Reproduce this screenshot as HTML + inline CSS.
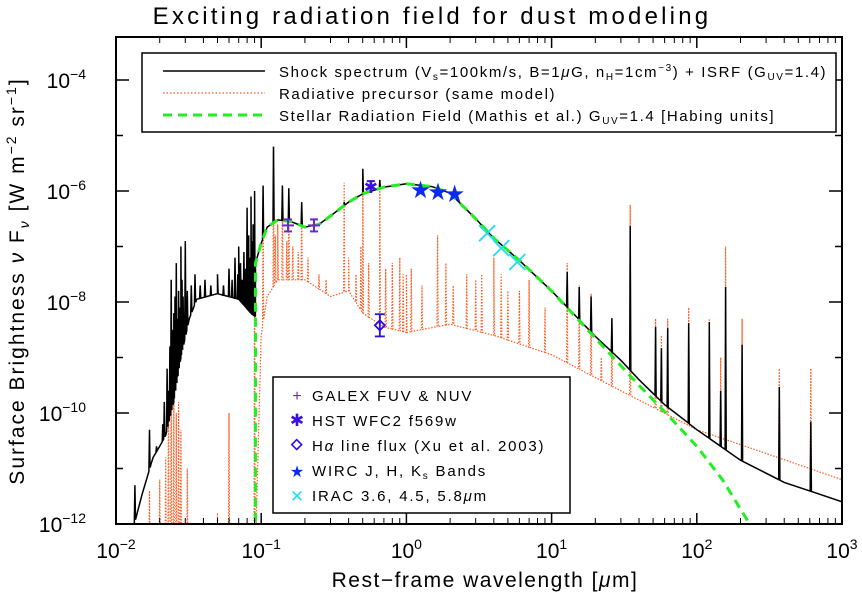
<!DOCTYPE html>
<html><head><meta charset="utf-8"><style>
body{margin:0;background:#fff}
svg{display:block;font-family:"Liberation Sans",sans-serif}
</style></head><body>
<svg id="chart" width="862" height="598" viewBox="0 0 862 598">
<defs><clipPath id="pc"><rect x="116" y="37" width="726" height="487"/></clipPath></defs>
<text x="432" y="24" font-size="24" letter-spacing="3.2" text-anchor="middle">Exciting radiation field for dust modeling</text>
<g id="plot" clip-path="url(#pc)"></g>
<g id="axes"></g>
<rect x="116" y="37" width="726" height="487" fill="none" stroke="#000" stroke-width="2"/>
<text transform="translate(24,281) rotate(-90)" font-size="21" letter-spacing="2" text-anchor="middle">Surface Brightness <tspan font-style="italic">ν</tspan> F<tspan font-size="14" dy="5" font-style="italic">ν</tspan><tspan dy="-5"> [W m</tspan><tspan font-size="14" dy="-8">−2</tspan><tspan dy="8"> sr</tspan><tspan font-size="14" dy="-8">−1</tspan><tspan dy="8">]</tspan></text>
<text x="485" y="587" font-size="21" letter-spacing="1.5" text-anchor="middle">Rest−frame wavelength [<tspan font-style="italic">μ</tspan>m]</text>
<g>
<rect x="142" y="53" width="694" height="79" fill="#fff" stroke="#000" stroke-width="1.5"/>
<line x1="163" y1="71" x2="265" y2="71" stroke="#000" stroke-width="1.5"/>
<text x="279" y="77" font-size="15" letter-spacing="1.6">Shock spectrum (V<tspan font-size="10" dy="3">s</tspan><tspan dy="-3">=100km/s, B=1</tspan><tspan font-style="italic">μ</tspan>G, n<tspan font-size="10" dy="3">H</tspan><tspan dy="-3">=1cm</tspan><tspan font-size="10" dy="-6">−3</tspan><tspan dy="6">) + ISRF (G</tspan><tspan font-size="10" dy="3">UV</tspan><tspan dy="-3">=1.4)</tspan></text>
<line x1="163" y1="93" x2="265" y2="93" stroke="#ff5a1f" stroke-width="1.3" stroke-dasharray="1.5,2"/>
<text x="279" y="99" font-size="15" letter-spacing="1.6">Radiative precursor (same model)</text>
<line x1="163" y1="115" x2="265" y2="115" stroke="#22ee22" stroke-width="3" stroke-dasharray="9,6"/>
<text x="279" y="121" font-size="15" letter-spacing="1.6">Stellar Radiation Field (Mathis et al.) G<tspan font-size="10" dy="3">UV</tspan><tspan dy="-3">=1.4 [Habing units]</tspan></text>
</g>
<g>
<rect x="273" y="377" width="297" height="136" fill="#fff" stroke="#000" stroke-width="1.5"/>
<text x="297" y="401" font-size="16" fill="#6a2ac8" text-anchor="middle">+</text>
<text x="312" y="401" font-size="15" letter-spacing="1.8">GALEX FUV &amp; NUV</text>
<text x="297" y="426" font-size="17" fill="#3a10e0" text-anchor="middle">✱</text>
<text x="312" y="426" font-size="15" letter-spacing="1.8">HST WFC2 f569w</text>
<rect x="292" y="441" width="7" height="7" transform="rotate(45 296 446)" fill="none" stroke="#2a10e0" stroke-width="1.6"/>
<text x="312" y="451" font-size="15" letter-spacing="1.8">H<tspan font-style="italic">α</tspan> line flux (Xu et al. 2003)</text>
<text x="297" y="477" font-size="16" fill="#0a2af0" text-anchor="middle">★</text>
<text x="312" y="476" font-size="15" letter-spacing="1.8">WIRC J, H, K<tspan font-size="10" dy="3">s</tspan><tspan dy="-3"> Bands</tspan></text>
<text x="297" y="502" font-size="17" fill="#22ddee" text-anchor="middle">✕</text>
<text x="312" y="501" font-size="15" letter-spacing="1.8">IRAC 3.6, 4.5, 5.8<tspan font-style="italic">μ</tspan>m</text>
</g>
</svg>
<script>
// ---- data (log10 of brightness) ----
const stellarLam=[0.0912,0.0913,0.1,0.11,0.13,0.16,0.2,0.25,0.3,0.4,0.5,0.7,1.0,1.5,2,3,4,6,10,20,40,65,100,150,263];
const stellarF=[-12.5,-7.3,-6.94,-6.65,-6.52,-6.55,-6.65,-6.6,-6.45,-6.2,-6.05,-5.93,-5.87,-5.92,-6.04,-6.5,-6.85,-7.25,-7.8,-8.65,-9.5,-10.07,-10.6,-11.2,-12.24];
const shockLam=[0.0125,0.015,0.018,0.02,0.022,0.025,0.028,0.032,0.036,0.05,0.07,0.085,0.09,0.0912,0.0913,0.1,0.11,0.13,0.16,0.2,0.25,0.3,0.4,0.5,0.7,1.0,1.5,2,3,4,6,10,20,30,40,60,100,200,400,1000];
const shockF=[-12.3,-11.5,-10.8,-10.6,-10.4,-9.8,-9.0,-8.3,-7.95,-7.85,-7.95,-8.2,-8.25,-8.25,-7.3,-6.94,-6.65,-6.52,-6.55,-6.65,-6.6,-6.45,-6.2,-6.05,-5.93,-5.87,-5.92,-6.04,-6.5,-6.85,-7.25,-7.8,-8.62,-9.05,-9.4,-9.85,-10.3,-10.85,-11.25,-11.6];
const shockLineLam=[0.0135,0.015,0.017,0.0175,0.019,0.021,0.0215,0.022,0.0225,0.023,0.0235,0.024,0.0245,0.025,0.0255,0.026,0.0265,0.027,0.0275,0.028,0.0285,0.029,0.03,0.031,0.033,0.035,0.038,0.041,0.045,0.05,0.055,0.06,0.063,0.066,0.069,0.07,0.072,0.074,0.076,0.078,0.08,0.082,0.083,0.085,0.087,0.088,0.09,0.103,0.1216,0.14,0.155,0.19,0.3727,0.5007,0.6563,12.8,15.5,18.7,26,34.8,52,57,63,88,122,146,158,205,370,610];
const shockLinePeak=[-11.3,-11.7,-10.3,-10.9,-10.6,-10.2,-9.8,-10.4,-9.2,-9.6,-8.8,-7.6,-8.5,-8.2,-7.9,-7.3,-8.3,-7.8,-8.1,-7.0,-7.6,-7.9,-6.9,-7.8,-7.7,-7.5,-7.7,-7.6,-7.7,-7.5,-7.7,-7.4,-7.6,-7.2,-7.5,-7.0,-7.3,-7.6,-7.1,-7.4,-6.3,-6.8,-7.2,-6.1,-6.9,-6.6,-6.0,-5.9,-5.2,-5.9,-5.95,-6.2,-6.2,-5.6,-5.8,-7.46,-7.73,-7.9,-8.29,-6.63,-8.45,-8.83,-8.47,-8.38,-8.36,-9.6,-7.73,-8.77,-9.53,-10.16];
const precLam=[0.0912,0.1,0.11,0.13,0.2,0.3,0.4,0.5,0.7,1,2,4,10,30,100,1000];
const precF=[-12.5,-8.6,-7.9,-7.6,-7.6,-7.9,-7.8,-8.2,-8.45,-8.55,-8.4,-8.6,-8.95,-9.6,-10.3,-11.2];
const precLineLam=[0.014,0.017,0.02,0.022,0.023,0.024,0.025,0.026,0.027,0.028,0.031,0.05,0.06,0.09,0.103,0.1216,0.125,0.13,0.14,0.15,0.155,0.165,0.18,0.19,0.21,0.25,0.28,0.3727,0.4,0.45,0.486,0.5007,0.55,0.6563,0.6584,0.72,0.8,0.9,0.95,1.0,1.08,1.28,1.64,1.87,2.1,2.6,3.0,3.3,4.0,4.5,5.0,6.0,7.0,9.0,12.8,15.5,18.7,22,26,34.8,52,57,63,88,122,146,158,205,370,610];
const precLinePeak=[-12.0,-11.4,-11.2,-10.8,-9.6,-9.1,-9.3,-10.0,-9.8,-10.3,-11.0,-11.8,-10.0,-7.0,-6.0,-5.2,-6.8,-6.6,-5.9,-6.9,-5.95,-7.0,-7.1,-6.3,-7.2,-7.5,-7.6,-5.85,-7.2,-7.5,-7.0,-5.6,-7.3,-5.8,-6.8,-7.4,-7.3,-7.2,-7.5,-7.5,-7.4,-7.7,-6.8,-7.3,-7.7,-7.5,-7.6,-7.5,-7.2,-7.5,-7.8,-7.8,-7.6,-8.1,-7.3,-7.7,-7.85,-9.0,-8.3,-6.25,-8.3,-8.6,-8.3,-8.1,-8.3,-9.0,-7.0,-8.3,-9.2,-9.2];
const galexLam=[0.153,0.231], galexF=[-6.62,-6.62];
const hstLam=[0.569], hstF=[-5.93];
const haLam=[0.6563], haF=[-8.42], haErrLo=[-8.62], haErrHi=[-8.22];
const wircLam=[1.25,1.65,2.15], wircF=[-5.98,-6.02,-6.05];
const iracLam=[3.6,4.5,5.8], iracF=[-6.76,-7.03,-7.28];
const xTicks=[-2,-1,0,1,2,3], yTicks=[-4,-6,-8,-10,-12];

// ---- axes ----
const X0=116,XD=145.2,YB=524,YD=55.5;
const xs=l=>X0+(Math.log10(l)+2)*XD;
const ys=f=>YB-(f+12)*YD;
const NS='http://www.w3.org/2000/svg';
const plot=document.getElementById('plot'),axes=document.getElementById('axes');
function mk(t,a,p){const e=document.createElementNS(NS,t);for(const k in a)e.setAttribute(k,a[k]);p.appendChild(e);return e;}
function interp(L,F,l){const g=Math.log10(l);if(g<=Math.log10(L[0]))return F[0];for(let i=1;i<L.length;i++){const a=Math.log10(L[i-1]),b=Math.log10(L[i]);if(g<=b)return F[i-1]+(F[i]-F[i-1])*(g-a)/(b-a);}return F[F.length-1];}
function spectrum(L,F,LL,LP,w){
  let pts=[];L.forEach((l,i)=>pts.push([Math.log10(l),F[i]]));
  LL.forEach((l,i)=>{const g=Math.log10(l);
    pts.push([g-w,interp(L,F,Math.pow(10,g-w))]);pts.push([g,Math.max(LP[i],interp(L,F,l))]);pts.push([g+w,interp(L,F,Math.pow(10,g+w))]);});
  pts.sort((a,b)=>a[0]-b[0]);
  return pts.map((p,i)=>(i?'L':'M')+(X0+(p[0]+2)*XD).toFixed(1)+','+ys(Math.max(p[1],-12.6)).toFixed(1)).join('');
}
const prec=mk('path',{d:spectrum(precLam,precF,precLineLam,precLinePeak,0.004),fill:'none',stroke:'#ff5a1f','stroke-width':1.2,'stroke-dasharray':'1.5,1.5'},plot);


const shock=mk('path',{d:spectrum(shockLam,shockF,shockLineLam,shockLinePeak,0.004),fill:'none',stroke:'#000','stroke-width':1.5},plot);


const st=mk('path',{d:stellarLam.map((l,i)=>(i?'L':'M')+xs(l).toFixed(1)+','+ys(stellarF[i]).toFixed(1)).join(''),fill:'none',stroke:'#22ee22','stroke-width':3,'stroke-dasharray':'9,6'},plot);


// markers
galexLam.forEach((l,i)=>{const x=xs(l),y=ys(galexF[i]);const g=mk('g',{stroke:'#6a2ac8','stroke-width':2},plot);


mk('line',{x1:x-6,y1:y,x2:x+6,y2:y},g);mk('line',{x1:x,y1:y-7,x2:x,y2:y+7},g);mk('line',{x1:x-4,y1:y-6,x2:x+4,y2:y-6},g);mk('line',{x1:x-4,y1:y+6,x2:x+4,y2:y+6},g);});
hstLam.forEach((l,i)=>{const x=xs(l),y=ys(hstF[i]);const t=mk('text',{x:x,y:y+6,'font-size':17,fill:'#3a10e0','text-anchor':'middle'},plot);t.textContent='✱';


mk('line',{x1:x-4,y1:y-6,x2:x+4,y2:y-6,stroke:'#3a10e0','stroke-width':2},plot);});
haLam.forEach((l,i)=>{const x=xs(l),y=ys(haF[i]);const g=mk('g',{stroke:'#2a10e0','stroke-width':1.8,fill:'none'},plot);


mk('path',{d:`M${x},${y-5}L${x+5},${y}L${x},${y+5}L${x-5},${y}Z`},g);
mk('line',{x1:x,y1:ys(haErrHi[i]),x2:x,y2:ys(haErrLo[i])},g);mk('line',{x1:x-5,y1:ys(haErrHi[i]),x2:x+5,y2:ys(haErrHi[i])},g);mk('line',{x1:x-5,y1:ys(haErrLo[i]),x2:x+5,y2:ys(haErrLo[i])},g);});
wircLam.forEach((l,i)=>{const t=mk('text',{x:xs(l),y:ys(wircF[i])+8,'font-size':24,fill:'#0a2af0','text-anchor':'middle'},plot);t.textContent='★';

});
iracLam.forEach((l,i)=>{const x=xs(l),y=ys(iracF[i]);const g=mk('g',{stroke:'#22ddee','stroke-width':1.8},plot);


mk('line',{x1:x-8,y1:y-8,x2:x+8,y2:y+8},g);mk('line',{x1:x-8,y1:y+8,x2:x+8,y2:y-8},g);});
// ticks
xTicks.forEach(d=>{const x=X0+(d+2)*XD;
 mk('line',{x1:x,y1:YB,x2:x,y2:YB-11,stroke:'#000','stroke-width':1.5},axes);mk('line',{x1:x,y1:37,x2:x,y2:48,stroke:'#000','stroke-width':1.5},axes);
 if(d<3)for(let m=2;m<10;m++){const xm=x+Math.log10(m)*XD;mk('line',{x1:xm,y1:YB,x2:xm,y2:YB-6,stroke:'#000'},axes);mk('line',{x1:xm,y1:37,x2:xm,y2:43,stroke:'#000'},axes);}
 const t=mk('text',{x:x,y:558,'font-size':21,'text-anchor':'middle'},axes);
 
 
 t.innerHTML='10<tspan font-size="14" dy="-9">'+(d<0?'−'+(-d):d)+'</tspan>';});
for(let f=-12;f<=-4;f++){const y=ys(f);const maj=yTicks.includes(f);
 mk('line',{x1:X0,y1:y,x2:X0+(maj?13:7),y2:y,stroke:'#000','stroke-width':1.5},axes);mk('line',{x1:842,y1:y,x2:842-(maj?13:7),y2:y,stroke:'#000','stroke-width':1.5},axes);
 if(maj){const t=mk('text',{x:86,y:y+8,'font-size':21,'text-anchor':'end'},axes);
 
 
 t.innerHTML='10<tspan font-size="14" dy="-9">−'+(-f)+'</tspan>';}}
</script>
</body></html>
